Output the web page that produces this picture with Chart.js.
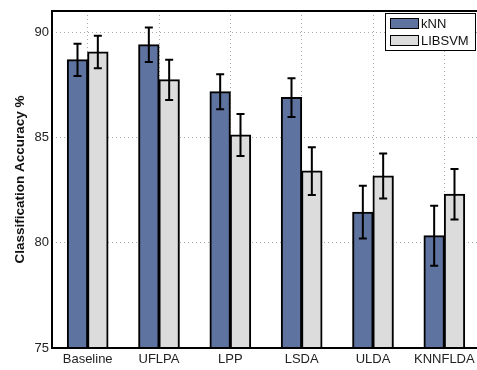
<!DOCTYPE html>
<html>
<head>
<meta charset="utf-8">
<script src="https://cdn.jsdelivr.net/npm/chart.js@4"></script>
<style>
  html, body { margin: 0; padding: 0; background: #fff; overflow: hidden; }
  #wrap { width: 482px; height: 370px; }
</style>
</head>
<body>
<div id="wrap"><canvas id="accChart"></canvas></div>
<script>
const methods = ['Baseline', 'UFLPA', 'LPP', 'LSDA', 'ULDA', 'KNNFLDA'];
const knnAcc = [88.68, 89.40, 87.17, 86.89, 81.45, 80.33];
const knnErr = [0.77, 0.82, 0.83, 0.92, 1.25, 1.42];
const svmAcc = [89.05, 87.73, 85.11, 83.40, 83.17, 82.30];
const svmErr = [0.77, 0.95, 1.00, 1.13, 1.07, 1.20];
const yTicks = [75, 80, 85, 90];

const errors = [knnErr, svmErr];

// error bars drawn on top of the bars, using the bar x and the y scale
const errorBars = {
  id: 'errorBars',
  afterDatasetsDraw(chart) {
    const ctx = chart.ctx;
    const y = chart.scales.y;
    ctx.save();
    ctx.strokeStyle = '#000';
    ctx.lineWidth = 2;
    chart.data.datasets.forEach((ds, i) => {
      chart.getDatasetMeta(i).data.forEach((bar, j) => {
        const v = ds.data[j], e = errors[i][j];
        const top = y.getPixelForValue(v + e);
        const bot = y.getPixelForValue(v - e);
        ctx.beginPath();
        ctx.moveTo(bar.x, top); ctx.lineTo(bar.x, bot);
        ctx.moveTo(bar.x - 4, top); ctx.lineTo(bar.x + 4, top);
        ctx.moveTo(bar.x - 4, bot); ctx.lineTo(bar.x + 4, bot);
        ctx.stroke();
      });
    });
    ctx.restore();
  }
};

// matlab style box and legend
const frameLegend = {
  id: 'frameLegend',
  afterDraw(chart) {
    const ctx = chart.ctx;
    const a = chart.chartArea;
    ctx.save();
    ctx.strokeStyle = '#000';
    ctx.lineWidth = 2;
    ctx.strokeRect(a.left, a.top, a.right - a.left, a.bottom - a.top);

    const lx = 385, ly = 13, lw = 90, lh = 37;
    ctx.fillStyle = '#fff';
    ctx.fillRect(lx, ly, lw, lh);
    ctx.lineWidth = 1;
    ctx.strokeRect(lx + 0.5, ly + 0.5, lw, lh);
    ctx.font = '13px "Liberation Sans", Arial, sans-serif';
    ctx.textBaseline = 'middle';
    chart.data.datasets.forEach((ds, i) => {
      const ry = ly + 10 + i * 17;
      ctx.fillStyle = ds.backgroundColor;
      ctx.fillRect(lx + 5, ry - 5, 28, 10);
      ctx.strokeStyle = '#000';
      ctx.strokeRect(lx + 5.5, ry - 4.5, 28, 10);
      ctx.fillStyle = '#111';
      ctx.fillText(ds.label, lx + 36, ry + 1);
    });
    ctx.restore();
  }
};

const ctx = document.getElementById('accChart').getContext('2d');
new Chart(ctx, {
  type: 'bar',
  data: {
    labels: methods,
    datasets: [{
      label: 'kNN',
      data: knnAcc,
      backgroundColor: '#5f73a0',
      borderColor: '#000',
      borderWidth: 2,
      inflateAmount: 0.5
    }, {
      label: 'LIBSVM',
      data: svmAcc,
      backgroundColor: '#dcdcdc',
      borderColor: '#000',
      borderWidth: 2,
      inflateAmount: 0.5
    }]
  },
  options: {
    responsive: true,
    maintainAspectRatio: false,
    animation: false,
    categoryPercentage: 0.57,
    barPercentage: 1.0,
    layout: { padding: { top: 11, right: 2, left: 0, bottom: 0 } },
    plugins: {
      legend: { display: false },
      tooltip: { enabled: false }
    },
    scales: {
      x: {
        grid: { offset: false, color: '#a8a8a8', drawTicks: false },
        border: { display: false, dash: [1, 3] },
        ticks: {
          color: '#222',
          padding: 4,
          font: { size: 13, family: '"Liberation Sans", Arial, sans-serif' }
        },
        afterFit(scale) { scale.height = 22; }
      },
      y: {
        min: 75,
        max: 91,
        afterBuildTicks(scale) { scale.ticks = yTicks.map(v => ({ value: v })); },
        grid: { color: '#a8a8a8', drawTicks: false },
        border: { display: false, dash: [1, 3] },
        ticks: {
          color: '#222',
          padding: 3,
          font: { size: 13, family: '"Liberation Sans", Arial, sans-serif' }
        },
        title: {
          display: true,
          text: 'Classification Accuracy %',
          color: '#111',
          padding: { top: 12, bottom: 0 },
          font: { size: 13.5, weight: 'bold', family: '"Liberation Sans", Arial, sans-serif' }
        },
        afterFit(scale) { scale.width = 52; }
      }
    }
  },
  plugins: [errorBars, frameLegend]
});
</script>
</body>
</html>
